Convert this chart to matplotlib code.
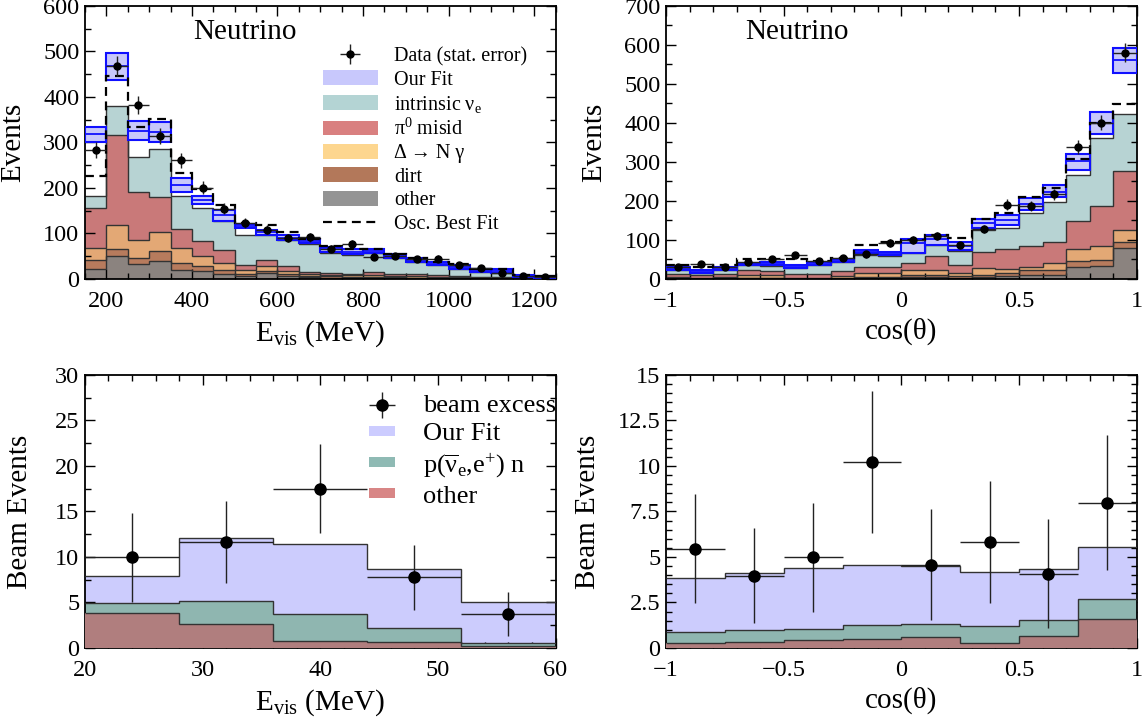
import numpy as np
import matplotlib
matplotlib.use('Agg')
import matplotlib.pyplot as plt
from matplotlib.patches import Patch
from matplotlib.lines import Line2D
from matplotlib.ticker import MultipleLocator, FuncFormatter

plt.rcParams['font.family'] = ['Liberation Serif', 'DejaVu Serif']
plt.rcParams['mathtext.fontset'] = 'custom'
plt.rcParams['mathtext.rm'] = 'Liberation Serif'
plt.rcParams['mathtext.it'] = 'Liberation Serif:italic'
plt.rcParams['mathtext.bf'] = 'Liberation Serif:bold'
plt.rcParams['axes.unicode_minus'] = True

# ---------------- Top-left: E_vis spectrum (neutrino mode) ----------------
E_edges = [150, 200, 250, 300, 350, 400, 450, 500, 550, 600, 650, 700,
           750, 800, 850, 900, 950, 1000, 1050, 1100, 1150, 1200, 1250]
E_other = [23, 50, 33, 39, 19, 17, 12, 7, 13, 6, 4, 3, 3, 3, 2, 2, 2, 1, 1, 1, 0.5, 0.5]
E_dirt = [18, 16, 13, 22, 16, 11, 7, 5, 4, 4, 3, 3, 2, 2, 2, 1, 1, 1, 1, 1, 0.5, 0.5]
E_delta = [27, 53, 39, 43, 33, 23, 16, 7, 11, 7, 4, 3, 3, 4, 3, 3, 2, 2, 1, 1, 0.5, 0.5]
E_pi0 = [87, 197, 106, 77, 42, 33, 28, 12, 14, 12, 5, 4, 4, 6, 5, 4, 4, 2, 2, 1, 0.5, 0.5]
E_intr = [28, 64, 78, 105, 73, 72, 65, 66, 55, 56, 62, 44, 40, 42, 34, 28, 21, 16, 10, 9, 2, 0]
E_fit = [318, 467, 325, 324, 207, 174, 140, 117, 103, 91, 84, 65, 60, 62, 52, 42, 34, 27, 19, 17, 7, 4]
E_fit_lo = [302, 437, 306, 302, 192, 165, 128, 112, 97, 85, 79, 60, 54, 58, 47, 38, 30, 23, 16, 13, 5, 2]
E_fit_hi = [333, 496, 348, 344, 222, 183, 152, 121, 108, 97, 88, 71, 65, 67, 56, 46, 38, 31, 22, 21, 9, 6]
E_osc = [227, 447, 335, 352, 232, 197, 162, 124, 119, 103, 88, 72, 65, 67, 56, 47, 38, 32, 22, 21, 9, 6]
E_data = [284, 469, 382, 314, 261, 201, 154, 123, 108, 90, 92, 67, 77, 48, 51, 43, 45, 30, 24, 14, 7, 5]
E_err = [17, 22, 20, 18, 16, 14, 12, 11, 10, 9.5, 9.6, 8.2, 8.8, 6.9, 7.1, 6.6, 6.7, 5.5, 4.9, 3.7, 2.6, 2.2]

# ---------------- Top-right: cos(theta) (neutrino mode) ----------------
C_edges = [-1.0, -0.9, -0.8, -0.7, -0.6, -0.5, -0.4, -0.3, -0.2, -0.1, 0.0,
           0.1, 0.2, 0.3, 0.4, 0.5, 0.6, 0.7, 0.8, 0.9, 1.0]
C_other = [1, 0.5, 1, 1.5, 1.5, 0.5, 0.5, 1, 2, 2, 5, 5, 2.5, 4, 8.5, 11, 11, 32, 34, 79]
C_dirt = [1, 0.5, 1, 1.5, 1.5, 0.5, 0.5, 1, 2, 2, 5, 5, 4.5, 7, 6.5, 11, 11, 13, 15, 15]
C_delta = [2, 2, 2, 7, 7, 1, 1, 6, 12, 12, 12, 12, 8, 17, 11, 10, 19, 32, 36, 32]
C_pi0 = [8, 6, 10, 12, 11, 12, 12, 13, 14, 14, 19, 36, 20, 40, 51, 52, 53, 72, 103, 152]
C_intr = [10, 7, 10, 14, 13, 14, 21, 22, 32, 28, 25, 30, 38, 58, 55, 85, 103, 118, 174, 144]
C_fit = [26, 20, 27, 39, 40, 33, 40, 47, 70, 65, 92, 103, 85, 143, 152, 193, 224, 303, 399, 561]
C_fit_lo = [23, 16, 24, 36, 37, 29, 36, 43, 66, 61, 67, 88, 75, 132, 139, 177, 211, 280, 373, 529]
C_fit_hi = [30, 23, 30, 42, 43, 37, 44, 50, 75, 70, 102, 113, 94, 154, 165, 207, 240, 321, 429, 592]
C_osc = [37, 30, 36, 52, 50, 52, 47, 53, 86, 95, 101, 113, 104, 154, 169, 209, 234, 307, 399, 448]
C_data = [32, 38, 32, 44, 50, 62, 47, 54, 63, 92, 101, 111, 86, 128, 191, 187, 217, 338, 401, 580]
C_err = [5.7, 6.2, 5.7, 6.6, 7.1, 7.9, 6.9, 7.3, 7.9, 9.6, 10, 10.5, 9.3, 11.3, 13.8, 13.7, 14.7, 18.4, 20, 24.1]

# ---------------- Bottom-left: beam excess vs E_vis ----------------
BE_edges = [20, 28, 36, 44, 52, 60]
BE_other = [3.9, 2.67, 0.73, 0.7, 0.26]
BE_ibd = [1.04, 2.45, 2.97, 1.46, 0.29]
BE_fit = [7.94, 12.07, 11.45, 8.67, 5.05]
BE_data = [9.95, 11.65, 17.5, 7.76, 3.7]
BE_err = [4.9, 4.5, 4.9, 3.6, 2.4]

# ---------------- Bottom-right: beam excess vs cos(theta) ----------------
BC_edges = [-1.0, -0.75, -0.5, -0.25, 0.0, 0.25, 0.5, 0.75, 1.0]
BC_other = [0.27, 0.33, 0.46, 0.51, 0.6, 0.27, 0.64, 1.59]
BC_ibd = [0.61, 0.64, 0.58, 0.77, 0.74, 0.92, 0.88, 1.10]
BC_fit = [3.84, 4.12, 4.37, 4.55, 4.52, 4.17, 4.34, 5.54]
BC_data = [5.45, 3.97, 4.99, 10.24, 4.57, 5.8, 4.08, 7.99]
BC_err = [3.0, 2.6, 3.0, 3.9, 3.05, 3.35, 3.0, 3.7]

# ---------------- styling ----------------
hist_cols = ['#8b837f', '#b77b5d', '#e3a875', '#c97979', '#b7d3d3']
leg_cols = {'fit': '#c8c8fc', 'intr': '#b4d4d4', 'pi0': '#d98080',
            'delta': '#fdd68f', 'dirt': '#b3785a', 'other': '#949494'}
band_fill = '#c8c8fa'
band_edge = '#1010ff'
edge_dark = '#333333'

TICK_FS = 17.5
LABEL_FS = 21

fmt = FuncFormatter(lambda v, p: ('%g' % v).replace('-', '\u2212'))


def style_axes(ax, xmaj, xmin, ymaj, ymin):
    ax.xaxis.set_major_locator(MultipleLocator(xmaj))
    ax.xaxis.set_minor_locator(MultipleLocator(xmin))
    ax.yaxis.set_major_locator(MultipleLocator(ymaj))
    ax.yaxis.set_minor_locator(MultipleLocator(ymin))
    ax.xaxis.set_major_formatter(fmt)
    ax.yaxis.set_major_formatter(fmt)
    ax.tick_params(which='both', direction='in', top=True, right=True,
                   labelsize=TICK_FS, width=1.0, colors='black')
    ax.tick_params(which='major', length=7)
    ax.tick_params(which='minor', length=4)
    ax.tick_params(axis='x', which='major', pad=9)
    ax.tick_params(axis='y', which='major', pad=4)
    for s in ax.spines.values():
        s.set_linewidth(1.3)


def draw_top(ax, edges, comps, fit, lo, hi, osc, data, err):
    edges = np.asarray(edges, float)
    base = np.zeros(len(edges) - 1)
    tops = []
    for vals in comps:
        base = base + np.asarray(vals, float)
        tops.append(base.copy())
    for top, col in zip(reversed(tops), reversed(hist_cols)):
        ax.stairs(top, edges, baseline=0, fill=True, facecolor=col,
                  edgecolor='none', zorder=1)
    for top in tops:
        ax.stairs(top, edges, baseline=None, color=edge_dark, lw=1.0, zorder=2)
    centers = 0.5 * (edges[:-1] + edges[1:])
    widths = np.diff(edges)
    lo = np.asarray(lo, float)
    hi = np.asarray(hi, float)
    ax.bar(centers, hi - lo, width=widths, bottom=lo, facecolor=band_fill,
           edgecolor=band_edge, linewidth=1.5, zorder=3)
    ax.hlines(fit, edges[:-1], edges[1:], color=band_edge, lw=1.3, zorder=4)
    ax.stairs(osc, edges, baseline=None, color='black', lw=1.6,
              linestyle=(0, (4, 2.5)), zorder=5)
    eb = ax.errorbar(centers, data, yerr=err, xerr=widths / 2, fmt='o',
                     color='black', ecolor='#222222', ms=5, elinewidth=1.0,
                     capsize=0, zorder=6)
    return eb


def draw_bottom(ax, edges, other, ibd, fit, data, err):
    edges = np.asarray(edges, float)
    other = np.asarray(other, float)
    ibd_top = other + np.asarray(ibd, float)
    ax.stairs(fit, edges, baseline=0, fill=True, facecolor='#ccccfd',
              edgecolor='none', zorder=1)
    ax.stairs(ibd_top, edges, baseline=0, fill=True, facecolor='#8fb6b0',
              edgecolor='none', zorder=2)
    ax.stairs(other, edges, baseline=0, fill=True, facecolor='#b07e7e',
              edgecolor='none', zorder=3)
    for t in (fit, ibd_top, other):
        ax.stairs(t, edges, baseline=None, color=edge_dark, lw=1.0, zorder=4)
    centers = 0.5 * (edges[:-1] + edges[1:])
    widths = np.diff(edges)
    eb = ax.errorbar(centers, data, yerr=err, xerr=widths / 2, fmt='o',
                     color='black', ecolor='#222222', ms=8, elinewidth=1.0,
                     capsize=0, zorder=6)
    return eb


fig = plt.figure(figsize=(11.45, 7.2), dpi=100)
L1, L2, W = 0.0742, 0.5817, 0.4110
B1, B2, H = 0.6125, 0.100, 0.3792
ax1 = fig.add_axes([L1, B1, W, H])
ax2 = fig.add_axes([L2, B1, W, H])
ax3 = fig.add_axes([L1, B2, W, H])
ax4 = fig.add_axes([L2, B2, W, H])

# top-left
eb1 = draw_top(ax1, E_edges, [E_other, E_dirt, E_delta, E_pi0, E_intr],
               E_fit, E_fit_lo, E_fit_hi, E_osc, E_data, E_err)
ax1.set_xlim(150, 1250)
ax1.set_ylim(0, 600)
style_axes(ax1, 200, 50, 100, 50)
ax1.set_xlabel(r'E$_{\rm vis}$ (MeV)', fontsize=LABEL_FS, labelpad=4)
ax1.set_ylabel('Events', fontsize=LABEL_FS, labelpad=12)
ax1.text(0.339, 0.905, 'Neutrino', transform=ax1.transAxes, fontsize=21,
         ha='center', va='center')
handles = [eb1,
           Patch(facecolor=leg_cols['fit'], edgecolor='none'),
           Patch(facecolor=leg_cols['intr'], edgecolor='none'),
           Patch(facecolor=leg_cols['pi0'], edgecolor='none'),
           Patch(facecolor=leg_cols['delta'], edgecolor='none'),
           Patch(facecolor=leg_cols['dirt'], edgecolor='none'),
           Patch(facecolor=leg_cols['other'], edgecolor='none'),
           Line2D([0], [0], color='black', lw=1.6, linestyle=(0, (4, 2.5)))]
labels = ['Data (stat. error)', 'Our Fit', r'intrinsic ν$_{\rm e}$',
          r'π$^{0}$ misid', 'Δ → N γ', 'dirt', 'other', 'Osc. Best Fit']
ax1.legend(handles, labels, loc='upper left', bbox_to_anchor=(0.505, 0.85),
           frameon=False, fontsize=14.5, handlelength=2.75, handleheight=0.75,
           handletextpad=0.8, labelspacing=0.2, borderpad=0, borderaxespad=0)

# top-right
draw_top(ax2, C_edges, [C_other, C_dirt, C_delta, C_pi0, C_intr],
         C_fit, C_fit_lo, C_fit_hi, C_osc, C_data, C_err)
ax2.set_xlim(-1, 1)
ax2.set_ylim(0, 700)
style_axes(ax2, 0.5, 0.1, 100, 50)
ax2.set_xlabel(r'cos(θ)', fontsize=LABEL_FS, labelpad=4)
ax2.set_ylabel('Events', fontsize=LABEL_FS, labelpad=12)
ax2.text(0.279, 0.905, 'Neutrino', transform=ax2.transAxes, fontsize=21,
         ha='center', va='center')

# bottom-left
eb3 = draw_bottom(ax3, BE_edges, BE_other, BE_ibd, BE_fit, BE_data, BE_err)
ax3.set_xlim(20, 60)
ax3.set_ylim(0, 30)
style_axes(ax3, 10, 2, 5, 2.5)
ax3.set_xlabel(r'E$_{\rm vis}$ (MeV)', fontsize=LABEL_FS, labelpad=4)
ax3.set_ylabel('Beam Events', fontsize=LABEL_FS, labelpad=16)
h3 = [eb3,
      Patch(facecolor='#ccccff', edgecolor='none'),
      Patch(facecolor='#8fbab4', edgecolor='none'),
      Patch(facecolor='#d88686', edgecolor='none')]
l3 = ['beam excess', 'Our Fit', r'p($\overline{\mathrm{ν}}_{\rm e}$,e$^{+}$) n', 'other']
ax3.legend(h3, l3, loc='upper left', bbox_to_anchor=(0.603, 0.925),
           frameon=False, fontsize=19, handlelength=1.0, handleheight=0.2,
           handletextpad=1.05, labelspacing=0.22, borderpad=0, borderaxespad=0)

# bottom-right
draw_bottom(ax4, BC_edges, BC_other, BC_ibd, BC_fit, BC_data, BC_err)
ax4.set_xlim(-1, 1)
ax4.set_ylim(0, 15)
style_axes(ax4, 0.5, 0.1, 2.5, 0.5)
ax4.set_xlabel(r'cos(θ)', fontsize=LABEL_FS, labelpad=4)
ax4.set_ylabel('Beam Events', fontsize=LABEL_FS, labelpad=12)

fig.savefig('out.png', dpi=100)
